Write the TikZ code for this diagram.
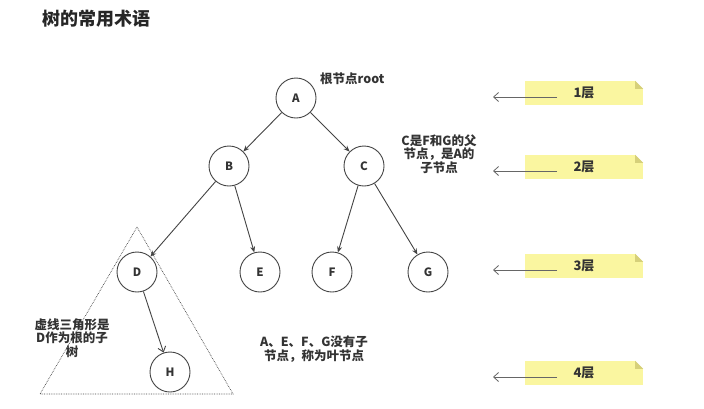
\documentclass[tikz,border=0pt]{standalone}
\usepackage{fontspec}
\setmainfont{Noto Sans CJK SC}
\usetikzlibrary{arrows.meta}
\definecolor{edgec}{HTML}{444444}
\definecolor{notey}{HTML}{FAF6A0}
\definecolor{foldc}{HTML}{D6D07A}
\tikzset{
  tnode/.style={circle,draw=edgec,line width=0.9pt,minimum size=40pt,inner sep=0pt,font=\fontsize{11.5}{12}\selectfont\bfseries,text=black!80},
  tedge/.style={draw=edgec,line width=0.9pt,-{Stealth[length=6pt,width=5pt]}},
  openedge/.style={draw=edgec,line width=0.9pt,-{Straight Barb[length=5pt,width=8pt]}},
  lvlarrow/.style={draw=gray!80!black,line width=0.8pt,-{Straight Barb[length=5pt,width=9pt]}},
  note/.style={fill=notey,draw=none,minimum width=118pt,minimum height=24pt,inner sep=0pt,font=\fontsize{13}{14}\selectfont\bfseries,text=black!80},
  lbl/.style={font=\fontsize{12.5}{13.5}\selectfont\bfseries,text=black!80,align=center,inner sep=0pt}
}
\begin{document}
\begin{tikzpicture}[x=1pt,y=-1pt]
\useasboundingbox (0,0) rectangle (704,408);
\fill[white] (0,0) rectangle (704,408);
\node[anchor=west,font=\fontsize{18}{19}\selectfont\bfseries,text=black!85,inner sep=0pt] (title) at (42,19) {树的常用术语};
% tree nodes
\node[tnode] (A) at (296,98) {A};
\node[tnode] (B) at (229,166) {B};
\node[tnode] (C) at (364,166) {C};
\node[tnode] (D) at (137,272) {D};
\node[tnode] (E) at (260,272) {E};
\node[tnode] (F) at (332,272) {F};
\node[tnode] (G) at (428,272) {G};
\node[tnode] (H) at (170,372) {H};
% edges
\draw[tedge] (A) -- (B);
\draw[tedge] (A) -- (C);
\draw[tedge] (B) -- (D);
\draw[tedge] (B) -- (E);
\draw[tedge] (C) -- (F);
\draw[tedge] (C) -- (G);
\draw[openedge] (D) -- (H);
% dotted triangle
\coordinate (t1) at (137,227);
\coordinate (t2) at (40,394);
\coordinate (t3) at (233,394);
\draw[densely dotted,edgec,line width=0.7pt] (t1) -- (t2) -- (t3) -- cycle;
% labels
\node[lbl,anchor=west] (rootlbl) at (320,79) {根节点root};
\node[lbl] (clbl) at (439,154) {C是F和G的父\\节点，是A的\\子节点};
\node[lbl] (dlbl) at (72,338) {虚线三角形是\\D作为根的子\\树};
\node[lbl] (leaflbl) at (314,349) {A、E、F、G没有子\\节点，称为叶节点};
% level notes
\foreach \i/\y in {1/93, 2/167, 3/266, 4/373}{
  \node[note] (n\i) at (584,\y) {\i 层};
  \fill[white] (n\i.north east) -- ++(-8,0) -- ++(8,8) -- cycle;
  \fill[foldc] (n\i.north east) ++(-8,0) -- ++(8,8) -- ++(-8,0) -- cycle;
  \coordinate (s\i) at (557,\y+4);
  \coordinate (e\i) at (493,\y+4);
  \draw[lvlarrow] (s\i) -- (e\i);
}
\end{tikzpicture}
\end{document}
